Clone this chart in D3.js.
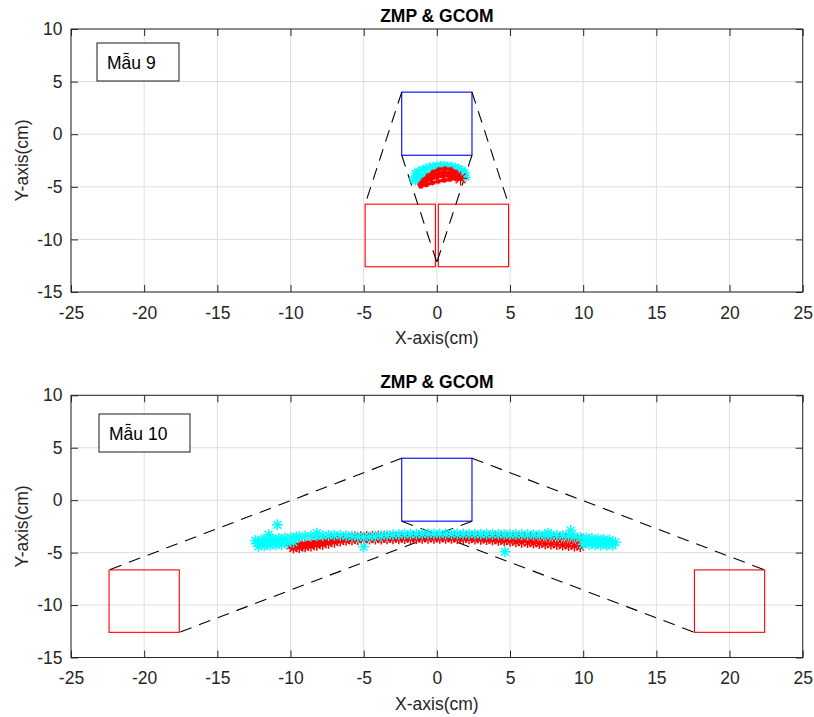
<!DOCTYPE html>
<html>
<head>
<meta charset="utf-8">
<script src="https://cdn.jsdelivr.net/npm/d3@7"></script>
<style>
  body { margin: 0; background: #fff; }
  svg { display: block; }
  text { font-family: "Liberation Sans", Arial, Helvetica, sans-serif; }
</style>
</head>
<body>
<svg id="fig" width="814" height="717"></svg>
<script>
// ---- axis settings ----
const xTickValues = [-25, -20, -15, -10, -5, 0, 5, 10, 15, 20, 25];
const yTickValues = [-15, -10, -5, 0, 5, 10];
const panelTitles = ["ZMP & GCOM", "ZMP & GCOM"];
const panelTags = ["Mẫu 9", "Mẫu 10"];
const xLabel = "X-axis(cm)";
const yLabel = "Y-axis(cm)";

// ---- support geometry (cm) ----
const bodyX = [-2.4, 2.4];
const bodyY = [-2, 4];
const footY = [-12.6, -6.65];
const footX9 = [[-4.9, -0.1], [0.1, 4.9]];
const footX10 = [[-22.4, -17.6], [17.6, 22.4]];

// ---- sample 9: ZMP (cyan) and GCOM strands (red) ----
const zmp9 = [
  [-1.5,-3.7],[-1.25,-3.5],[-1.0,-3.35],[-0.75,-3.22],[-0.5,-3.12],[-0.25,-3.05],[0,-3.0],[0.25,-2.98],
  [0.5,-2.98],[0.75,-3.0],[1.0,-3.05],[1.25,-3.12],[1.5,-3.25],[1.75,-3.42],[1.95,-3.65],
  [-1.6,-4.25],[-1.35,-4.15],[-1.1,-4.0],[-0.85,-3.88],[-0.6,-3.78],[-0.35,-3.7],[-0.1,-3.64],[0.15,-3.6],
  [0.4,-3.58],[0.65,-3.58],[0.9,-3.6],[1.15,-3.65],[1.4,-3.72],[1.65,-3.82],[1.9,-3.95],[2.0,-4.1],
  [-1.45,-4.45],[-1.2,-4.35],[-0.95,-4.2],[-0.7,-4.1],[-0.45,-4.0],[-0.2,-3.92]
];
const gcom9Strands = [
  [[-0.9,-4.35],[-0.6,-3.95],[-0.25,-3.6],[0.15,-3.35],[0.55,-3.28],[0.95,-3.35],[1.3,-3.6],[1.5,-3.92],[1.62,-4.2]],
  [[-1.05,-4.6],[-0.7,-4.25],[-0.3,-3.95],[0.1,-3.75],[0.5,-3.65],[0.9,-3.68],[1.25,-3.85],[1.48,-4.05],[1.62,-4.2]],
  [[-1.15,-4.8],[-0.8,-4.55],[-0.4,-4.3],[0.0,-4.1],[0.4,-3.98],[0.8,-3.95],[1.15,-4.02],[1.42,-4.12],[1.62,-4.2]],
  [[-1.1,-4.95],[-0.7,-4.8],[-0.3,-4.62],[0.1,-4.48],[0.5,-4.38],[0.9,-4.3],[1.3,-4.24],[1.62,-4.2]]
];

// ---- sample 10: GCOM (red) and ZMP (cyan) ----
const gcom10Upper = [
  [-10.0,-4.30],[-9.6,-4.24],[-9.2,-4.18],[-8.8,-4.11],[-8.4,-4.03],[-8.0,-3.95],[-7.6,-3.86],[-7.2,-3.77],
  [-6.8,-3.68],[-6.4,-3.59],[-6.0,-3.53],[-5.6,-3.51],[-5.2,-3.49],[-4.8,-3.47],[-4.4,-3.46],[-4.0,-3.45],
  [-3.6,-3.44],[-3.2,-3.43],[-2.8,-3.43],[-2.4,-3.42],[-2.0,-3.41],[-1.6,-3.41],[-1.2,-3.40],[-0.8,-3.40],
  [-0.4,-3.40],[0.0,-3.40],[0.4,-3.40],[0.8,-3.40],[1.2,-3.40],[1.6,-3.40],[2.0,-3.41],[2.4,-3.41],
  [2.8,-3.41],[3.2,-3.42],[3.6,-3.43],[4.0,-3.44],[4.4,-3.44],[4.8,-3.45],[5.2,-3.45],[5.6,-3.46],
  [6.0,-3.47],[6.4,-3.48],[6.8,-3.49],[7.2,-3.50],[7.6,-3.51],[8.0,-3.52],[8.4,-3.56],[8.8,-3.60],
  [9.2,-3.65],[9.6,-3.71],[9.9,-3.78]
];
const gcom10Lower = [
  [-9.8,-4.57],[-9.4,-4.51],[-9.0,-4.45],[-8.6,-4.37],[-8.2,-4.29],[-7.8,-4.20],[-7.4,-4.10],[-7.0,-4.00],
  [-6.6,-3.90],[-6.2,-3.82],[-5.8,-3.77],[-5.4,-3.75],[-5.0,-3.72],[-4.6,-3.71],[-4.2,-3.70],[-3.8,-3.69],
  [-3.4,-3.68],[-3.0,-3.67],[-2.6,-3.67],[-2.2,-3.66],[-1.8,-3.65],[-1.4,-3.65],[-1.0,-3.64],[-0.6,-3.64],
  [-0.2,-3.64],[0.2,-3.64],[0.6,-3.64],[1.0,-3.64],[1.4,-3.65],[1.8,-3.66],[2.2,-3.67],[2.6,-3.70],
  [3.0,-3.72],[3.4,-3.75],[3.8,-3.78],[4.2,-3.82],[4.6,-3.87],[5.0,-3.91],[5.4,-3.96],[5.8,-4.00],
  [6.2,-4.04],[6.6,-4.08],[7.0,-4.12],[7.4,-4.16],[7.8,-4.19],[8.2,-4.22],[8.6,-4.27],[9.0,-4.31],
  [9.4,-4.36],[9.8,-4.42]
];
const zmp10 = [
  // left end
  [-12.4,-3.85],[-12.0,-3.8],[-11.6,-3.75],[-11.2,-3.7],[-10.8,-3.65],[-10.4,-3.6],[-10.0,-3.55],[-9.6,-3.5],
  [-12.2,-4.4],[-11.8,-4.35],[-11.4,-4.3],[-11.0,-4.25],[-10.6,-4.2],[-10.2,-4.1],[-9.8,-4.0],
  [-12.3,-4.1],[-11.9,-4.05],[-11.5,-4.0],[-11.1,-3.95],[-10.7,-3.9],
  // along the path
  [-9.4,-3.5],[-9.0,-3.45],[-8.6,-3.42],[-8.2,-3.4],[-7.8,-3.38],[-7.4,-3.36],[-7.0,-3.34],[-6.6,-3.35],
  [-6.2,-3.4],[-5.8,-3.45],[-5.4,-3.5],[-5.0,-3.52],[-4.6,-3.5],[-4.2,-3.45],[-3.8,-3.4],[-3.4,-3.35],
  [-3.0,-3.3],[-2.6,-3.28],[-2.2,-3.26],[-1.8,-3.25],[-1.4,-3.24],[-1.0,-3.23],[-0.6,-3.22],[-0.2,-3.22],
  [0.2,-3.22],[0.6,-3.22],[1.0,-3.22],[1.4,-3.23],[1.8,-3.23],[2.2,-3.24],[2.6,-3.24],[3.0,-3.25],
  [3.4,-3.25],[3.8,-3.26],[4.2,-3.26],[4.6,-3.27],[5.0,-3.27],[5.4,-3.28],[5.8,-3.28],[6.2,-3.29],
  [6.6,-3.3],[7.0,-3.31],[7.4,-3.32],[7.8,-3.33],[8.2,-3.35],[8.6,-3.38],[9.0,-3.42],[9.4,-3.48],
  // right end
  [9.8,-3.55],[10.2,-3.6],[10.6,-3.65],[11.0,-3.7],[11.4,-3.75],[11.8,-3.8],[12.2,-4.0],
  [10.0,-4.2],[10.4,-4.22],[10.8,-4.25],[11.2,-4.28],[11.6,-4.3],[12.0,-4.3],
  [10.2,-3.9],[10.6,-3.95],[11.0,-4.0],[11.4,-4.02],[11.8,-4.05],
  // scattered samples
  [-10.9,-2.35],[-11.5,-3.3],[-8.2,-3.15],[-5.0,-4.45],[4.65,-4.92],[7.6,-3.15],[9.15,-2.9]
];

// ---- layout ----
const W = 814, H = 717;
const plotLeft = 71, plotRight = 802.7;
const panels = [
  { top: 29, bottom: 292, tag: { x: 97, y: 43, w: 82, h: 38 } },
  { top: 395.3, bottom: 657.5, tag: { x: 99, y: 414, w: 91, h: 38 } }
];
const axisColor = "#262626";
const gridColor = "#dfdfdf";
const fontSize = 17.5;

const svg = d3.select("#fig");
svg.append("rect").attr("width", W).attr("height", H).attr("fill", "#fff");

// asterisk marker: '+' and 'x' overlaid
function asterisk(r) {
  const a = r * 0.7071;
  return `M${-r},0L${r},0M0,${-r}L0,${r}M${-a},${-a}L${a},${a}M${-a},${a}L${a},${-a}`;
}

function drawPanel(i) {
  const p = panels[i];
  const x = d3.scaleLinear().domain([-25, 25]).range([plotLeft, plotRight]);
  const y = d3.scaleLinear().domain([-15, 10]).range([p.bottom, p.top]);
  const g = svg.append("g");

  // grid
  g.append("g").selectAll("line.gx").data(xTickValues).join("line")
    .attr("x1", d => x(d)).attr("x2", d => x(d)).attr("y1", p.top).attr("y2", p.bottom)
    .attr("stroke", gridColor).attr("stroke-width", 1);
  g.append("g").selectAll("line.gy").data(yTickValues).join("line")
    .attr("y1", d => y(d)).attr("y2", d => y(d)).attr("x1", plotLeft).attr("x2", plotRight)
    .attr("stroke", gridColor).attr("stroke-width", 1);

  // support shapes
  const feet = i === 0 ? footX9 : footX10;
  const shapes = g.append("g").attr("fill", "none");
  shapes.append("rect")
    .attr("x", x(bodyX[0])).attr("y", y(bodyY[1]))
    .attr("width", x(bodyX[1]) - x(bodyX[0])).attr("height", y(bodyY[0]) - y(bodyY[1]))
    .attr("stroke", "#0000ff").attr("stroke-width", 1.1);
  shapes.selectAll("rect.foot").data(feet).join("rect")
    .attr("x", d => x(d[0])).attr("y", y(footY[1]))
    .attr("width", d => x(d[1]) - x(d[0])).attr("height", y(footY[0]) - y(footY[1]))
    .attr("stroke", "#ff0000").attr("stroke-width", 1.1);

  // dashed links: body top corners to outer foot top corners,
  // body bottom corners to the opposite foot's inner bottom corners
  const links = [
    [[bodyX[0], bodyY[1]], [feet[0][0], footY[1]]],
    [[bodyX[1], bodyY[1]], [feet[1][1], footY[1]]],
    [[bodyX[0], bodyY[0]], [feet[1][0], footY[0]]],
    [[bodyX[1], bodyY[0]], [feet[0][1], footY[0]]]
  ];
  shapes.selectAll("line.link").data(links).join("line")
    .attr("x1", d => x(d[0][0])).attr("y1", d => y(d[0][1]))
    .attr("x2", d => x(d[1][0])).attr("y2", d => y(d[1][1]))
    .attr("stroke", "#000").attr("stroke-width", 1.1).attr("stroke-dasharray", "12,8");

  // trajectories
  const marks = g.append("g").attr("fill", "none");
  if (i === 0) {
    marks.selectAll("path.zmp").data(zmp9).join("path")
      .attr("transform", d => `translate(${x(d[0])},${y(d[1])})`)
      .attr("d", asterisk(4.5)).attr("stroke", "#00ffff").attr("stroke-width", 1.4);
    const line = d3.line().x(d => x(d[0])).y(d => y(d[1])).curve(d3.curveCatmullRom);
    marks.selectAll("path.strand").data(gcom9Strands).join("path")
      .attr("d", line).attr("stroke", "#ff0000").attr("stroke-width", 3);
    gcom9Strands.forEach(s => {
      marks.selectAll(null).data(s).join("path")
        .attr("transform", d => `translate(${x(d[0])},${y(d[1])})`)
        .attr("d", asterisk(2.8)).attr("stroke", "#ff0000").attr("stroke-width", 1.2);
    });
    const end = gcom9Strands[0][gcom9Strands[0].length - 1];
    marks.append("path")
      .attr("transform", `translate(${x(end[0])},${y(end[1])})`)
      .attr("d", asterisk(7)).attr("stroke", "#ff0000").attr("stroke-width", 1.3);
  } else {
    marks.selectAll("path.gcom").data(gcom10Upper.concat(gcom10Lower)).join("path")
      .attr("transform", d => `translate(${x(d[0])},${y(d[1])})`)
      .attr("d", asterisk(5.5)).attr("stroke", "#ff0000").attr("stroke-width", 1.5);
    marks.selectAll("path.zmp").data(zmp10).join("path")
      .attr("transform", d => `translate(${x(d[0])},${y(d[1])})`)
      .attr("d", asterisk(5.5)).attr("stroke", "#00ffff").attr("stroke-width", 1.5);
  }

  // axes with inward ticks on all four sides
  const fmt = d => String(d);
  const styleAxis = sel => {
    sel.select(".domain").remove();
    sel.selectAll(".tick line").attr("stroke", axisColor);
    sel.selectAll(".tick text").attr("fill", axisColor)
      .style("font-family", '"Liberation Sans", Arial, sans-serif').style("font-size", fontSize + "px");
  };
  g.append("g").attr("transform", `translate(0,${p.bottom})`)
    .call(d3.axisBottom(x).tickValues(xTickValues).tickFormat(fmt).tickSize(-7).tickPadding(14.5))
    .call(styleAxis);
  g.append("g").attr("transform", `translate(0,${p.top})`)
    .call(d3.axisTop(x).tickValues(xTickValues).tickFormat("").tickSize(-7))
    .call(styleAxis);
  g.append("g").attr("transform", `translate(${plotLeft},0)`)
    .call(d3.axisLeft(y).tickValues(yTickValues).tickFormat(fmt).tickSize(-7).tickPadding(8.5))
    .call(styleAxis);
  g.append("g").attr("transform", `translate(${plotRight},0)`)
    .call(d3.axisRight(y).tickValues(yTickValues).tickFormat("").tickSize(-7))
    .call(styleAxis);

  g.append("rect")
    .attr("x", plotLeft).attr("y", p.top)
    .attr("width", plotRight - plotLeft).attr("height", p.bottom - p.top)
    .attr("fill", "none").attr("stroke", axisColor).attr("stroke-width", 1);

  // title and axis labels
  g.append("text")
    .attr("x", (plotLeft + plotRight) / 2).attr("y", p.top - 7)
    .attr("text-anchor", "middle").attr("font-weight", "bold")
    .attr("font-size", fontSize + "px").attr("fill", "#000")
    .text(panelTitles[i]);
  g.append("text")
    .attr("x", (plotLeft + plotRight) / 2).attr("y", p.bottom + 52)
    .attr("text-anchor", "middle").attr("font-size", fontSize + "px").attr("fill", axisColor)
    .text(xLabel);
  g.append("text")
    .attr("transform", `translate(28,${(p.top + p.bottom) / 2}) rotate(-90)`)
    .attr("text-anchor", "middle").attr("font-size", fontSize + "px").attr("fill", axisColor)
    .text(yLabel);

  // sample tag box
  const t = p.tag;
  g.append("rect").attr("x", t.x).attr("y", t.y).attr("width", t.w).attr("height", t.h)
    .attr("fill", "#fff").attr("stroke", "#1a1a1a").attr("stroke-width", 1);
  g.append("text").attr("x", t.x + 10).attr("y", t.y + 25.5)
    .attr("font-size", fontSize + "px").attr("fill", "#000")
    .text(panelTags[i]);
}

drawPanel(0);
drawPanel(1);
</script>
</body>
</html>
